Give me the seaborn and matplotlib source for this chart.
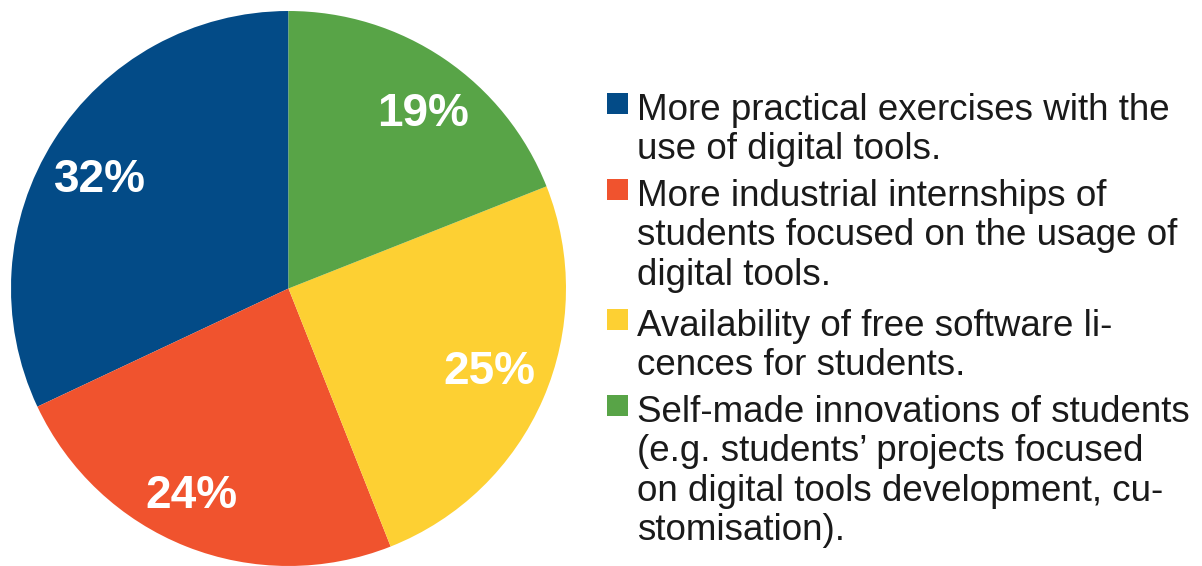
import matplotlib
matplotlib.use("Agg")
import numpy as np
import matplotlib.pyplot as plt
import seaborn as sns
from matplotlib.patches import Rectangle

# Survey shares (percent) and legend labels
categories = [
    "More practical exercises with the\nuse of digital tools.",
    "More industrial internships of\nstudents focused on the usage of\ndigital tools.",
    "Availability of free software li-\ncences for students.",
    "Self-made innovations of students\n(e.g. students\u2019 projects focused\non digital tools development, cu-\nstomisation).",
]
shares = [32, 24, 25, 19]
colors = ["#034b87", "#f0532e", "#fdd033", "#58a447"]

sns.set_theme(style="white")
plt.rcParams["font.family"] = ["Liberation Sans", "DejaVu Sans"]

W, H = 1202, 566
fig = plt.figure(figsize=(W / 100, H / 100), dpi=100)
fig.patch.set_facecolor("white")

# Pie axes placed in pixel space
cx, cy, r = 288.5, 288.5, 277.5
ax = fig.add_axes([(cx - r) / W, (H - cy - r) / H, 2 * r / W, 2 * r / H])
wedges, texts, autotexts = ax.pie(
    shares,
    colors=colors,
    startangle=90,
    counterclock=True,
    autopct=lambda p: f"{p:.0f}%",
    pctdistance=0.8,
    wedgeprops=dict(linewidth=0),
    textprops=dict(color="white", fontsize=33, fontweight="bold"),
)

# Fine placement of the percentage labels: angle nudge (deg) and radius
label_nudge = [2.4, -3.4, 0.8, -3.4]
label_radius = [0.785, 0.826, 0.785, 0.795]
for w, t, dth, rad in zip(wedges, autotexts, label_nudge, label_radius):
    th = np.deg2rad((w.theta1 + w.theta2) / 2 + dth)
    t.set_position((rad * np.cos(th), rad * np.sin(th)))

ax.set_xlim(-1, 1)
ax.set_ylim(-1, 1)
ax.set_aspect("equal")
ax.axis("off")

# Legend drawn in pixel coordinates
sq_x, sq_w = 607, 21
text_x = 637
entry_tops = [93, 179, 309, 395]
for lab, col, top in zip(categories, colors, entry_tops):
    fig.patches.append(Rectangle((sq_x / W, 1 - (top + sq_w) / H), sq_w / W, sq_w / H,
                                 transform=fig.transFigure, facecolor=col,
                                 edgecolor="none"))
    fig.text(text_x / W, 1 - top / H, lab, ha="left", va="top",
             fontsize=26.5, color="#1a1a1a", linespacing=1.165)

fig.savefig("out.png", dpi=100, facecolor="white")
